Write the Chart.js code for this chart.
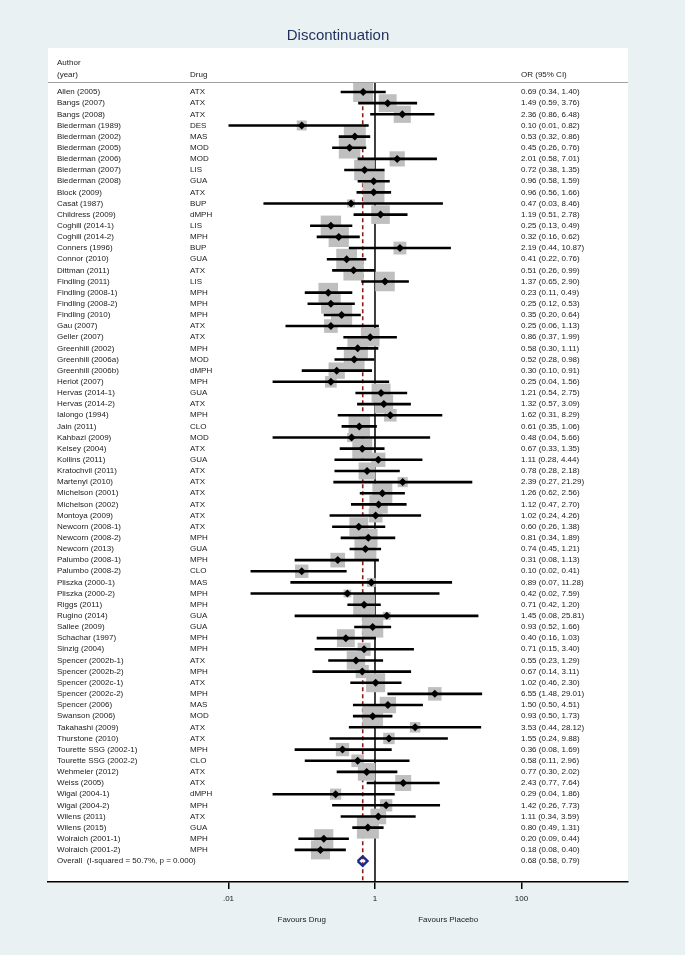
<!DOCTYPE html>
<html>
<head>
<meta charset="utf-8">
<title>Discontinuation</title>
<script src="https://cdn.jsdelivr.net/npm/chart.js@4.4.1/dist/chart.umd.min.js"></script>
<style>
  body { margin: 0; background: #e8f0f2; }
  canvas { display: block; }
</style>
</head>
<body>
<canvas id="grafico" width="685" height="955" style="width:685px;height:955px"></canvas>
<script>
// Estudios (autor / fármaco / OR con IC 95%)
const autores = [
  "Allen (2005)", "Bangs (2007)", "Bangs (2008)", "Biederman (1989)", "Biederman (2002)",
  "Biederman (2005)", "Biederman (2006)", "Biederman (2007)", "Biederman (2008)", "Block (2009)",
  "Casat (1987)", "Childress (2009)", "Coghill (2014-1)", "Coghill (2014-2)", "Conners (1996)",
  "Connor (2010)", "Dittman (2011)", "Findling (2011)", "Findling (2008-1)", "Findling (2008-2)",
  "Findling (2010)", "Gau (2007)", "Geller (2007)", "Greenhill (2002)", "Greenhill (2006a)",
  "Greenhill (2006b)", "Heriot (2007)", "Hervas (2014-1)", "Hervas (2014-2)", "Ialongo (1994)",
  "Jain (2011)", "Kahbazi (2009)", "Kelsey (2004)", "Kollins (2011)", "Kratochvil (2011)",
  "Martenyi (2010)", "Michelson (2001)", "Michelson (2002)", "Montoya (2009)", "Newcorn (2008-1)",
  "Newcorn (2008-2)", "Newcorn (2013)", "Palumbo (2008-1)", "Palumbo (2008-2)", "Pliszka (2000-1)",
  "Pliszka (2000-2)", "Riggs (2011)", "Rugino (2014)", "Sallee (2009)", "Schachar (1997)",
  "Sinzig (2004)", "Spencer (2002b-1)", "Spencer (2002b-2)", "Spencer (2002c-1)", "Spencer (2002c-2)",
  "Spencer (2006)", "Swanson (2006)", "Takahashi (2009)", "Thurstone (2010)", "Tourette SSG (2002-1)",
  "Tourette SSG (2002-2)", "Wehmeier (2012)", "Weiss (2005)", "Wigal (2004-1)", "Wigal (2004-2)",
  "Wilens (2011)", "Wilens (2015)", "Wolraich (2001-1)", "Wolraich (2001-2)"
];
const farmacos = [
  "ATX", "ATX", "ATX", "DES", "MAS", "MOD", "MOD", "LIS", "GUA", "ATX",
  "BUP", "dMPH", "LIS", "MPH", "BUP", "GUA", "ATX", "LIS", "MPH", "MPH",
  "MPH", "ATX", "ATX", "MPH", "MOD", "dMPH", "MPH", "GUA", "ATX", "MPH",
  "CLO", "MOD", "ATX", "GUA", "ATX", "ATX", "ATX", "ATX", "ATX", "ATX",
  "MPH", "GUA", "MPH", "CLO", "MAS", "MPH", "MPH", "GUA", "GUA", "MPH",
  "MPH", "ATX", "MPH", "ATX", "MPH", "MAS", "MOD", "ATX", "ATX", "MPH",
  "CLO", "ATX", "ATX", "dMPH", "MPH", "ATX", "GUA", "MPH", "MPH"
];
const orValores = [
  0.69, 1.49, 2.36, 0.10, 0.53, 0.45, 2.01, 0.72, 0.96, 0.96,
  0.47, 1.19, 0.25, 0.32, 2.19, 0.41, 0.51, 1.37, 0.23, 0.25,
  0.35, 0.25, 0.86, 0.58, 0.52, 0.30, 0.25, 1.21, 1.32, 1.62,
  0.61, 0.48, 0.67, 1.11, 0.78, 2.39, 1.26, 1.12, 1.02, 0.60,
  0.81, 0.74, 0.31, 0.10, 0.89, 0.42, 0.71, 1.45, 0.93, 0.40,
  0.71, 0.55, 0.67, 1.02, 6.55, 1.50, 0.93, 3.53, 1.55, 0.36,
  0.58, 0.77, 2.43, 0.29, 1.42, 1.11, 0.80, 0.20, 0.18
];
const icInf = [
  0.34, 0.59, 0.86, 0.01, 0.32, 0.26, 0.58, 0.38, 0.58, 0.56,
  0.03, 0.51, 0.13, 0.16, 0.44, 0.22, 0.26, 0.65, 0.11, 0.12,
  0.20, 0.06, 0.37, 0.30, 0.28, 0.10, 0.04, 0.54, 0.57, 0.31,
  0.35, 0.04, 0.33, 0.28, 0.28, 0.27, 0.62, 0.47, 0.24, 0.26,
  0.34, 0.45, 0.08, 0.02, 0.07, 0.02, 0.42, 0.08, 0.52, 0.16,
  0.15, 0.23, 0.14, 0.46, 1.48, 0.50, 0.50, 0.44, 0.24, 0.08,
  0.11, 0.30, 0.77, 0.04, 0.26, 0.34, 0.49, 0.09, 0.08
];
const icSup = [
  1.40, 3.76, 6.48, 0.82, 0.86, 0.76, 7.01, 1.35, 1.59, 1.66,
  8.46, 2.78, 0.49, 0.62, 10.87, 0.76, 0.99, 2.90, 0.49, 0.53,
  0.64, 1.13, 1.99, 1.11, 0.98, 0.91, 1.56, 2.75, 3.09, 8.29,
  1.06, 5.66, 1.35, 4.44, 2.18, 21.29, 2.56, 2.70, 4.26, 1.38,
  1.89, 1.21, 1.13, 0.41, 11.28, 7.59, 1.20, 25.81, 1.66, 1.03,
  3.40, 1.29, 3.11, 2.30, 29.01, 4.51, 1.73, 28.12, 9.88, 1.69,
  2.96, 2.02, 7.64, 1.86, 7.73, 3.59, 1.31, 0.44, 0.40
];

// Estimación global
const globalEtiqueta = "Overall  (I-squared = 50.7%, p = 0.000)";
const globalOR = 0.68;
const globalInf = 0.58;
const globalSup = 0.79;

// Eje X
const ticksValores = [0.01, 1, 100];
const ticksEtiquetas = [".01", "1", "100"];

const n = autores.length;
const filaGlobal = n + 1;
const fmt = (v) => v.toFixed(2);

// Tamaño del cuadrado según el peso (inverso de la varianza + tau²)
function lado(i) {
  const se = (Math.log(icSup[i]) - Math.log(icInf[i])) / 3.92;
  const w = 1 / (se * se + 0.25);
  return 12.3 * Math.sqrt(w);
}

const puntos = orValores.map((v, i) => ({ x: v, y: i + 1 }));

const lineasIC = [];
orValores.forEach((v, i) => {
  lineasIC.push({ x: icInf[i], y: i + 1 });
  lineasIC.push({ x: icSup[i], y: i + 1 });
  lineasIC.push({ x: v, y: null });
});

const rombo = [
  { x: globalInf, y: filaGlobal },
  { x: globalOR, y: filaGlobal - 0.42 },
  { x: globalSup, y: filaGlobal },
  { x: globalOR, y: filaGlobal + 0.42 },
  { x: globalInf, y: filaGlobal }
];

const Y_MIN = -2.95;
const Y_MAX = 71.88;

// Fondo y textos de las columnas
const plugTextos = {
  id: "textos",
  beforeDraw(chart) {
    const { ctx, chartArea } = chart;
    ctx.save();
    ctx.fillStyle = "#e9f1f3";
    ctx.fillRect(0, 0, chart.width, chart.height);
    ctx.fillStyle = "#ffffff";
    ctx.fillRect(chartArea.left, chartArea.top, chartArea.right - chartArea.left, chartArea.bottom - chartArea.top);
    ctx.restore();
  },
  afterDatasetsDraw(chart) {
    const { ctx, chartArea } = chart;
    const y = chart.scales.y;
    const x = chart.scales.x;
    ctx.save();
    ctx.fillStyle = "#1a1a1a";
    ctx.font = "8px 'Liberation Sans', Arial, sans-serif";
    ctx.textBaseline = "middle";
    ctx.textAlign = "left";

    // cabecera
    ctx.fillText("Author", 57, y.getPixelForValue(-1.6));
    ctx.fillText("(year)", 57, y.getPixelForValue(-0.53));
    ctx.fillText("Drug", 190, y.getPixelForValue(-0.53));
    ctx.fillText("OR (95% CI)", 521, y.getPixelForValue(-0.53));

    ctx.strokeStyle = "#a0a0a0";
    ctx.lineWidth = 1;
    ctx.beginPath();
    const ySep = Math.round(y.getPixelForValue(0.1)) + 0.5;
    ctx.moveTo(chartArea.left, ySep);
    ctx.lineTo(chartArea.right, ySep);
    ctx.stroke();

    for (let i = 0; i < n; i++) {
      const py = y.getPixelForValue(i + 1);
      ctx.fillText(autores[i], 57, py);
      ctx.fillText(farmacos[i], 190, py);
      ctx.fillText(fmt(orValores[i]) + " (" + fmt(icInf[i]) + ", " + fmt(icSup[i]) + ")", 521, py);
    }
    const pg = y.getPixelForValue(filaGlobal);
    ctx.fillText(globalEtiqueta, 57, pg);
    ctx.fillText(fmt(globalOR) + " (" + fmt(globalInf) + ", " + fmt(globalSup) + ")", 521, pg);

    // etiquetas bajo el eje
    ctx.textAlign = "center";
    ctx.fillText("Favours Drug", x.getPixelForValue(0.1), chartArea.bottom + 38);
    ctx.fillText("Favours Placebo", x.getPixelForValue(10), chartArea.bottom + 38);
    ctx.restore();
  }
};

const ctx = document.getElementById("grafico").getContext("2d");
const chart = new Chart(ctx, {
  type: "scatter",
  data: {
    datasets: [
      {
        // diamantes negros
        data: puntos,
        pointStyle: "rectRot",
        pointRadius: 4,
        backgroundColor: "#000000",
        borderColor: "#000000",
        borderWidth: 0,
        order: 1
      },
      {
        // intervalos de confianza
        type: "line",
        data: lineasIC,
        borderColor: "#000000",
        borderWidth: 2.6,
        pointRadius: 0,
        spanGaps: false,
        order: 2
      },
      {
        // rombo global
        type: "line",
        data: rombo,
        borderColor: "#1c2a8a",
        borderWidth: 2.4,
        pointRadius: 0,
        tension: 0,
        order: 0
      },
      {
        // cuadrados de peso
        data: puntos,
        pointStyle: "rect",
        pointRadius: (c) => lado(c.dataIndex) / Math.SQRT2,
        backgroundColor: "#bfbfbf",
        borderWidth: 0,
        order: 3
      },
      {
        // línea de no efecto
        type: "line",
        data: [{ x: 1, y: 0.15 }, { x: 1, y: Y_MAX }],
        borderColor: "#000000",
        borderWidth: 1.5,
        pointRadius: 0,
        order: 4
      },
      {
        // línea del efecto global
        type: "line",
        data: [{ x: globalOR, y: 0.4 }, { x: globalOR, y: Y_MAX }],
        borderColor: "#8c1c1c",
        borderWidth: 1.6,
        borderDash: [4, 3],
        pointRadius: 0,
        order: 5
      }
    ]
  },
  options: {
    responsive: false,
    animation: false,
    devicePixelRatio: 1,
    layout: { padding: { left: 48, right: 57, top: 0, bottom: 0 } },
    plugins: {
      legend: { display: false },
      tooltip: { enabled: false },
      title: {
        display: true,
        text: "Discontinuation",
        color: "#1f2f5c",
        font: { family: "'Liberation Sans', Arial, sans-serif", size: 15, weight: "normal" },
        padding: { top: 27, bottom: 3 }
      }
    },
    scales: {
      x: {
        type: "logarithmic",
        position: "bottom",
        min: Math.pow(10, -4.464),
        max: Math.pow(10, 3.454),
        afterBuildTicks: (s) => { s.ticks = ticksValores.map((v) => ({ value: v })); },
        afterFit: (s) => { s.height = 73; },
        ticks: {
          color: "#1a1a1a",
          padding: 5,
          maxRotation: 0,
          autoSkip: false,
          font: { family: "'Liberation Sans', Arial, sans-serif", size: 8 },
          callback: (v) => {
            const k = ticksValores.indexOf(v);
            return k >= 0 ? ticksEtiquetas[k] : "";
          }
        },
        grid: { drawOnChartArea: false, drawTicks: true, tickLength: 7, color: "#000000", lineWidth: 1.5 },
        border: { display: true, color: "#000000", width: 1.5 }
      },
      y: {
        type: "linear",
        reverse: true,
        min: Y_MIN,
        max: Y_MAX,
        display: false
      }
    }
  },
  plugins: [plugTextos]
});
</script>
</body>
</html>
